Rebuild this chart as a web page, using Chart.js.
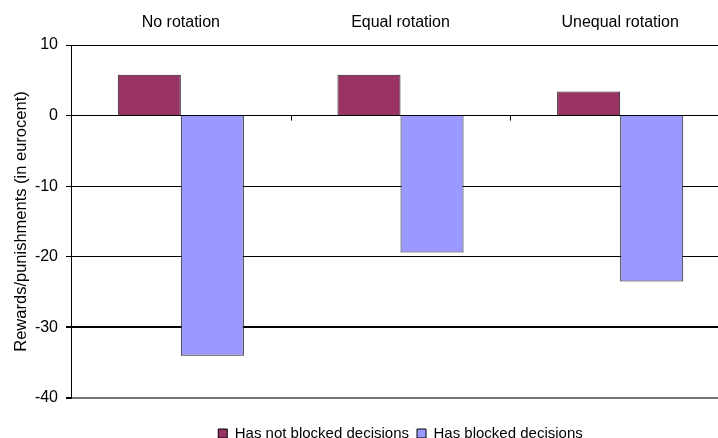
<!DOCTYPE html>
<html>
<head>
<meta charset="utf-8">
<script src="https://cdn.jsdelivr.net/npm/chart.js@4"></script>
<style>
  html, body { margin: 0; padding: 0; background: #fff; overflow: hidden; }
  #wrap { width: 718px; height: 438px; overflow: hidden; }
</style>
</head>
<body>
<div id="wrap"><canvas id="chart" width="730" height="451"></canvas></div>
<script>
// datos del gráfico
const categories = ['No rotation', 'Equal rotation', 'Unequal rotation'];
const notBlocked = [5.8, 5.8, 3.4];
const blocked = [-34.0, -19.4, -23.5];
const seriesNames = ['Has not blocked decisions', 'Has blocked decisions'];
const yTicks = [10, 0, -10, -20, -30, -40];

const FONT = { family: 'Liberation Sans, Arial, sans-serif', size: 16 };
const LEGEND_FONT = { family: 'Liberation Sans, Arial, sans-serif', size: 15, lineHeight: 1 };

// marcas pequeñas sobre la línea del cero, entre categorías
const zeroTicks = {
  id: 'zeroTicks',
  afterDatasetsDraw(chart) {
    const { ctx, scales: { x, y } } = chart;
    const y0 = y.getPixelForValue(0);
    ctx.save();
    ctx.strokeStyle = '#000';
    ctx.lineWidth = 1;
    for (let i = 0; i < categories.length - 1; i++) {
      const px = Math.round(x.getPixelForValue(i + 0.5)) + 0.5;
      ctx.beginPath();
      ctx.moveTo(px, y0);
      ctx.lineTo(px, y0 + 5);
      ctx.stroke();
    }
    ctx.restore();
  }
};

new Chart(document.getElementById('chart').getContext('2d'), {
  type: 'bar',
  data: {
    labels: categories,
    datasets: [
      {
        label: seriesNames[0],
        data: notBlocked,
        backgroundColor: '#993366',
        borderColor: '#222',
        borderWidth: 1,
        categoryPercentage: 0.574,
        barPercentage: 1
      },
      {
        label: seriesNames[1],
        data: blocked,
        backgroundColor: '#9999FF',
        borderColor: '#222',
        borderWidth: 1,
        categoryPercentage: 0.574,
        barPercentage: 1
      }
    ]
  },
  options: {
    responsive: false,
    animation: false,
    layout: { padding: 0 },
    plugins: {
      tooltip: { enabled: false },
      legend: {
        position: 'bottom',
        fullSize: false,
        title: {
          display: true,
          text: '',
          font: { size: 1, lineHeight: 1 },
          padding: { top: 19, bottom: 0 }
        },
        labels: {
          boxWidth: 9,
          boxHeight: 9,
          color: '#000',
          font: LEGEND_FONT,
          padding: 8,
          generateLabels(chart) {
            return chart.data.datasets.map((ds, i) => ({
              text: ds.label,
              fillStyle: ds.backgroundColor,
              strokeStyle: '#000',
              fontColor: '#000',
              lineWidth: 1,
              datasetIndex: i
            }));
          }
        }
      }
    },
    scales: {
      x: {
        position: 'top',
        grid: { display: false },
        border: { display: false },
        ticks: { color: '#000', font: FONT, padding: 5 },
        afterFit(scale) { scale.height = 45; }
      },
      y: {
        min: -40,
        max: 10,
        afterBuildTicks(scale) {
          scale.ticks = yTicks.map(v => ({ value: v }));
        },
        grid: {
          color(ctx) {
            if (ctx.tick && ctx.tick.value === -40) return '#777';
            return '#000';
          },
          lineWidth(ctx) {
            if (ctx.tick && (ctx.tick.value === -30 || ctx.tick.value === -40)) return 2;
            return 1;
          },
          tickLength: 5,
          tickColor: '#000'
        },
        border: { display: true, color: '#000', width: 1 },
        ticks: { color: '#000', font: FONT, padding: 8 },
        title: {
          display: true,
          text: 'Rewards/punishments (in eurocent)',
          color: '#000',
          font: { family: FONT.family, size: 16.5 },
          padding: { top: 12, bottom: 0 }
        },
        afterFit(scale) { scale.width = 71; }
      }
    }
  },
  plugins: [zeroTicks]
});
</script>
</body>
</html>
